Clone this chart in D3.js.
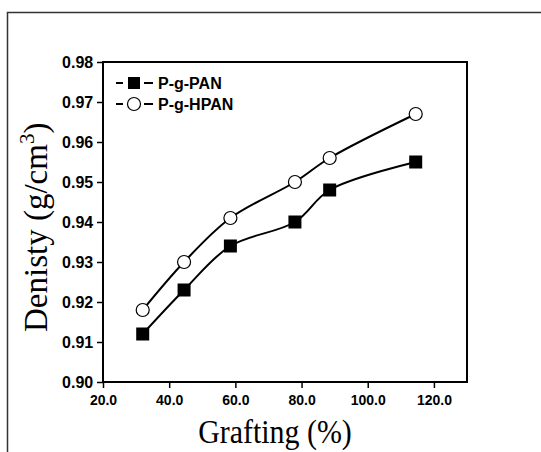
<!DOCTYPE html>
<html>
<head>
<meta charset="utf-8">
<script src="https://d3js.org/d3.v7.min.js"></script>
<style>
body { margin: 0; background: #fff; }
.tick text { font-family: "Liberation Sans", Arial, sans-serif; font-weight: bold; }
</style>
</head>
<body>
<div id="chart"></div>
<script>
var svgWidth = 541;
var svgHeight = 452;

var margin = { top: 62, right: 74, bottom: 70, left: 103 };
var width = svgWidth - margin.left - margin.right;
var height = svgHeight - margin.top - margin.bottom;

// data
var grafting = [32, 44.5, 58.5, 78, 88.5, 114.5];
var panDensity = [0.912, 0.923, 0.934, 0.940, 0.948, 0.955];
var hpanDensity = [0.918, 0.930, 0.941, 0.950, 0.956, 0.967];
var seriesNames = ["P-g-PAN", "P-g-HPAN"];
var xTicks = [20, 40, 60, 80, 100, 120];
var yTicks = [0.90, 0.91, 0.92, 0.93, 0.94, 0.95, 0.96, 0.97, 0.98];

var svg = d3.select("#chart")
  .append("svg")
  .attr("width", svgWidth)
  .attr("height", svgHeight);

// outer frame (top + left only visible)
svg.append("path")
  .attr("d", `M7.5,${svgHeight} V12.5 H${svgWidth}`)
  .attr("fill", "none")
  .attr("stroke", "#333")
  .attr("stroke-width", 1.5);

var chartGroup = svg.append("g")
  .attr("transform", `translate(${margin.left},${margin.top})`);

var x = d3.scaleLinear().domain([20, 130]).range([0, width]);
var y = d3.scaleLinear().domain([0.90, 0.98]).range([height, 0]);

var xAxis = chartGroup.append("g")
  .attr("transform", `translate(0,${height})`)
  .call(d3.axisBottom(x).tickValues(xTicks).tickFormat(d3.format(".1f")).tickSize(6).tickSizeOuter(0));

var yAxis = chartGroup.append("g")
  .call(d3.axisLeft(y).tickValues(yTicks).tickFormat(d3.format(".2f")).tickSize(6).tickSizeOuter(0));

chartGroup.selectAll(".domain").remove();
chartGroup.selectAll(".tick line").attr("stroke", "#000").attr("stroke-width", 1.5);
chartGroup.selectAll(".tick text").attr("fill", "#000");
xAxis.selectAll(".tick text").style("font-size", "14px").attr("dy", "1.0em");
yAxis.selectAll(".tick text").style("font-size", "16px").attr("dx", "-0.05em");

chartGroup.append("rect")
  .attr("x", 0).attr("y", 0)
  .attr("width", width).attr("height", height)
  .attr("fill", "none")
  .attr("stroke", "#000")
  .attr("stroke-width", 2);

var line = d3.line()
  .x(d => x(d[0]))
  .y(d => y(d[1]))
  .curve(d3.curveCatmullRom.alpha(0.5));

var panData = grafting.map((g, i) => [g, panDensity[i]]);
var hpanData = grafting.map((g, i) => [g, hpanDensity[i]]);

[panData, hpanData].forEach(function(data) {
  chartGroup.append("path")
    .datum(data)
    .attr("d", line)
    .attr("fill", "none")
    .attr("stroke", "#000")
    .attr("stroke-width", 2);
});

chartGroup.append("g")
  .selectAll("rect")
  .data(panData)
  .enter()
  .append("rect")
  .attr("x", d => x(d[0]) - 6.5)
  .attr("y", d => y(d[1]) - 6.5)
  .attr("width", 13)
  .attr("height", 13)
  .attr("fill", "#000");

chartGroup.append("g")
  .selectAll("circle")
  .data(hpanData)
  .enter()
  .append("circle")
  .attr("cx", d => x(d[0]))
  .attr("cy", d => y(d[1]))
  .attr("r", 6.5)
  .attr("fill", "#fff")
  .attr("stroke", "#000")
  .attr("stroke-width", 1.2);

// legend
var legend = chartGroup.append("g").attr("transform", "translate(13,0)");
seriesNames.forEach(function(name, i) {
  var ly = 21 + i * 21;
  legend.append("line").attr("x1", 0).attr("x2", 7)
    .attr("y1", ly).attr("y2", ly).attr("stroke", "#000").attr("stroke-width", 2);
  legend.append("line").attr("x1", 28).attr("x2", 37)
    .attr("y1", ly).attr("y2", ly).attr("stroke", "#000").attr("stroke-width", 2);
  if (i === 0) {
    legend.append("rect")
      .attr("x", 12).attr("y", ly - 6)
      .attr("width", 12).attr("height", 12)
      .attr("fill", "#000");
  } else {
    legend.append("circle")
      .attr("cx", 18).attr("cy", ly)
      .attr("r", 6.5)
      .attr("fill", "#fff")
      .attr("stroke", "#000")
      .attr("stroke-width", 1.2);
  }
  legend.append("text")
    .attr("x", 42)
    .attr("y", ly + 6)
    .attr("font-family", "Liberation Sans, Arial, sans-serif")
    .attr("font-weight", "bold")
    .attr("font-size", "16px")
    .text(name);
});

// axis labels
svg.append("text")
  .attr("transform", "translate(275,443) scale(0.88,1)")
  .attr("text-anchor", "middle")
  .attr("font-family", "Liberation Serif, Times New Roman, serif")
  .attr("font-size", "34px")
  .text("Grafting (%)");

var yLabel = svg.append("text")
  .attr("transform", "translate(47,332) rotate(-90)")
  .attr("text-anchor", "start")
  .attr("font-family", "Liberation Serif, Times New Roman, serif")
  .attr("font-size", "33px");
yLabel.append("tspan").text("Denisty (g/cm");
yLabel.append("tspan").attr("font-size", "21px").attr("dy", "-13").text("3");
yLabel.append("tspan").attr("dy", "13").text(")");
</script>
</body>
</html>
